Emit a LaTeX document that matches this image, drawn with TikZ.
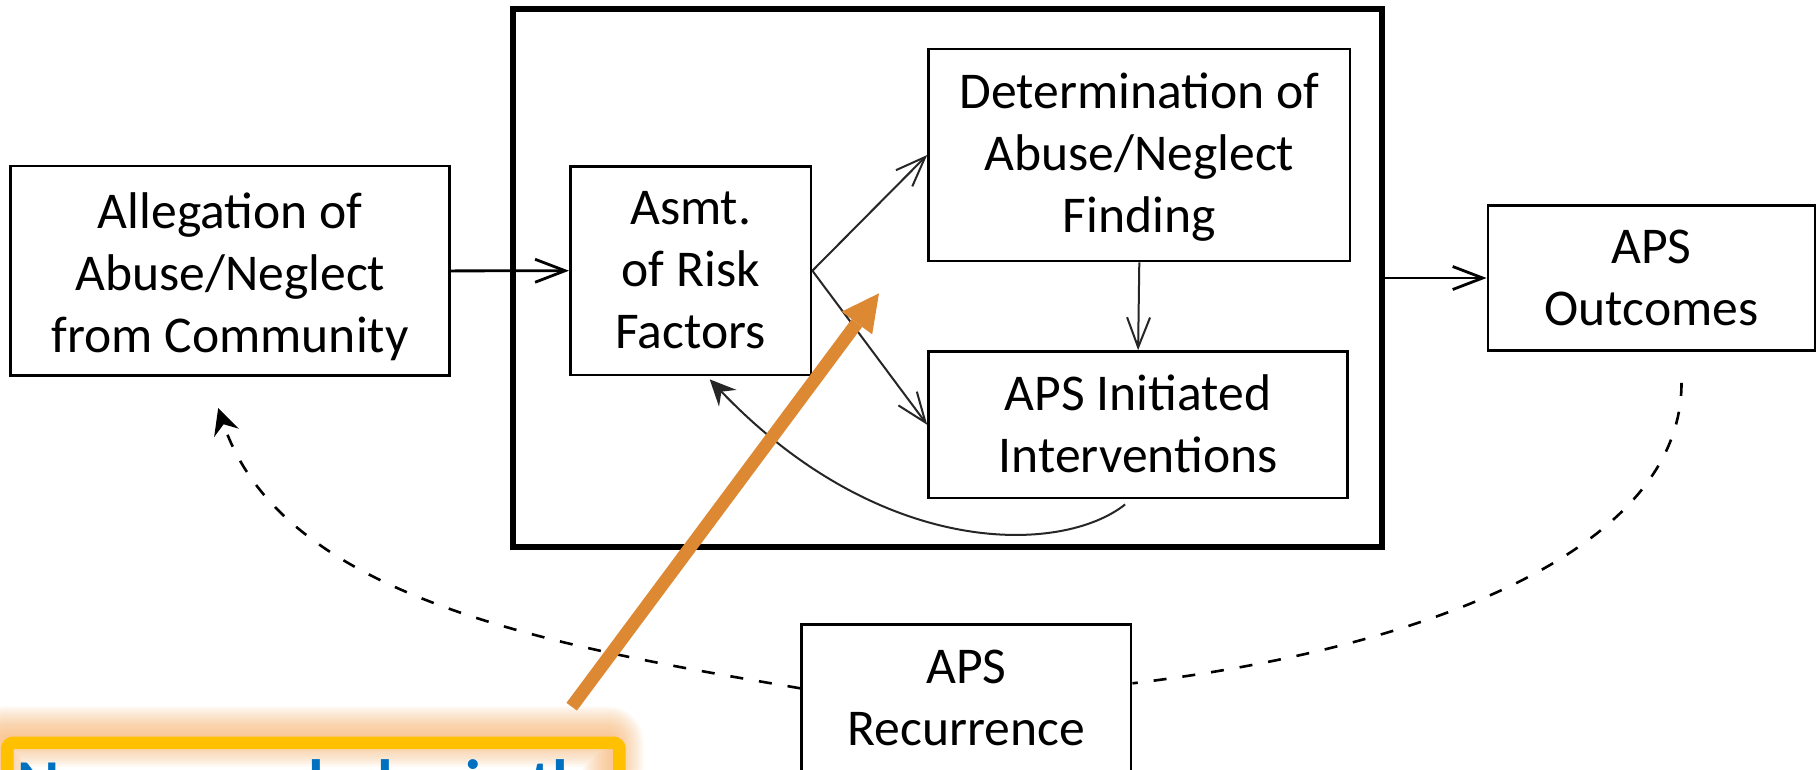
\documentclass[tikz,border=0pt]{standalone}
\usepackage{fontspec}
\setmainfont{Carlito}
\usetikzlibrary{arrows.meta}

\definecolor{calloutgold}{RGB}{255,192,0}
\definecolor{glowpeach}{RGB}{250,180,110}
\definecolor{pointer}{RGB}{221,136,51}
\definecolor{calloutblue}{RGB}{0,112,192}

\tikzset{
  box/.style={draw=black, line width=2.8pt, fill=white, inner sep=0pt},
  boxtext/.style={inner sep=0pt, align=center,
    font=\fontsize{51.6pt}{62pt}\selectfont},
  flow/.style={line width=2.8pt, -{Straight Barb[length=30pt,width=23pt]}},
  innerflow/.style={line width=2pt, draw=black!85,
    -{Straight Barb[length=30pt,width=23pt]}},
  loopback/.style={line width=2pt, draw=black!85,
    -{Stealth[length=26pt,width=24pt,inset=9pt]}},
  recur/.style={line width=2.6pt, dash pattern=on 13pt off 16pt},
  glowlayer/.style={glowpeach, opacity=0.09, line join=round, rounded corners=6pt},
}

\begin{document}
\begin{tikzpicture}[x=1pt,y=-1pt]
\useasboundingbox (0,0) rectangle (1817,769);
\clip (0,0) rectangle (1817,769);
\fill[white] (0,0) rectangle (1817,769);

% outer frame around the assessment process
\node[draw=black, line width=5.6pt, minimum width=869pt, minimum height=538pt,
  inner sep=0pt] (frame) at (947.5,278) {};

% process boxes
\node[box, minimum width=439pt, minimum height=209.7pt] (alleg) at (230.2,270.9) {};
\node[box, minimum width=240.6pt, minimum height=208.5pt] (asmt) at (690.7,270.7) {};
\node[box, minimum width=421.4pt, minimum height=212pt] (det) at (1139.3,155) {};
\node[box, minimum width=419pt, minimum height=146.5pt] (init) at (1138.1,424.8) {};
\node[box, minimum width=327pt, minimum height=145pt] (outc) at (1651.5,278) {};
\node[box, minimum width=329.3pt, minimum height=220pt, anchor=north] (rec)
  at (966.4,623.3) {};

% box labels
\node[boxtext] (allegT) at ([yshift=-5.5pt]alleg.center)
  {Allegation of\\Abuse/Neglect\\from Community};
\node[boxtext] (asmtT) at ([yshift=1pt]asmt.center) {Asmt.\\of Risk\\Factors};
\node[boxtext] (detT) at ([yshift=-2pt]det.center)
  {Determination of\\Abuse/Neglect\\Finding};
\node[boxtext] (initT) at ([yshift=1.5pt]init.center) {APS Initiated\\Interventions};
\node[boxtext] (outcT) at (outc.center) {APS\\Outcomes};
\node[boxtext, anchor=north] (recT) at (966.4,650) {APS\\Recurrence};

% solid connectors
\draw[flow] (alleg.east) -- (asmt.west);
\draw[innerflow] (asmt.east) -- (det.west);
\draw[innerflow] (asmt.east) -- (init.west);
\draw[innerflow] (det.south) -- (init.north);
\draw[flow] (frame.east) -- (outc.west);

% feedback from interventions to risk assessment
\coordinate (fbStart) at ([xshift=-13pt,yshift=-5pt]init.south);
\coordinate (fbEnd) at ([xshift=19pt,yshift=-3pt]asmt.south);
\draw[loopback] (fbStart) .. controls +(-63,50) and +(172,180) .. (fbEnd);

% recurrence loop (dashed)
\coordinate (outcBelow) at ([xshift=30pt,yshift=-31pt]outc.south);
\coordinate (recR) at ([yshift=-60pt]rec.north east);
\coordinate (recL) at ([yshift=-65pt]rec.north west);
\coordinate (allegBelow) at ([xshift=-12pt,yshift=-31pt]alleg.south);
\draw[recur] (outcBelow) .. controls +(0,165) and +(300,-36) .. (recR);
\draw[recur, -{Stealth[length=26pt,width=26pt,inset=9pt]}]
  (recL) .. controls +(-250,-42.5) and +(64,190) .. (allegBelow);

% orange pointer
\coordinate (ptrTail) at (571.7,706.7);
\coordinate (ptrTip) at (879,293.3);
\draw[pointer, line width=13pt,
  -{Triangle[length=37pt,width=38pt,line width=0pt]}] (ptrTail) -- (ptrTip);

% callout with soft glow
\fill[white, rounded corners=6pt] (1,736.5) rectangle (613,900);
\foreach \i in {1,...,12} {
  \draw[glowlayer, line width=\i*5pt] (1,736.5) rectangle (613,900);
}
\node[draw=calloutgold, line width=12.7pt, rounded corners=6pt, inner sep=0pt,
  minimum width=612pt, minimum height=163.5pt, anchor=north west] (note)
  at (1,736.5) {};
\node[anchor=base west, inner sep=0pt, text=calloutblue,
  font=\bfseries\fontsize{64pt}{76pt}\selectfont] (noteText) at (17,804)
  {Numerous holes in the};
\end{tikzpicture}
\end{document}
